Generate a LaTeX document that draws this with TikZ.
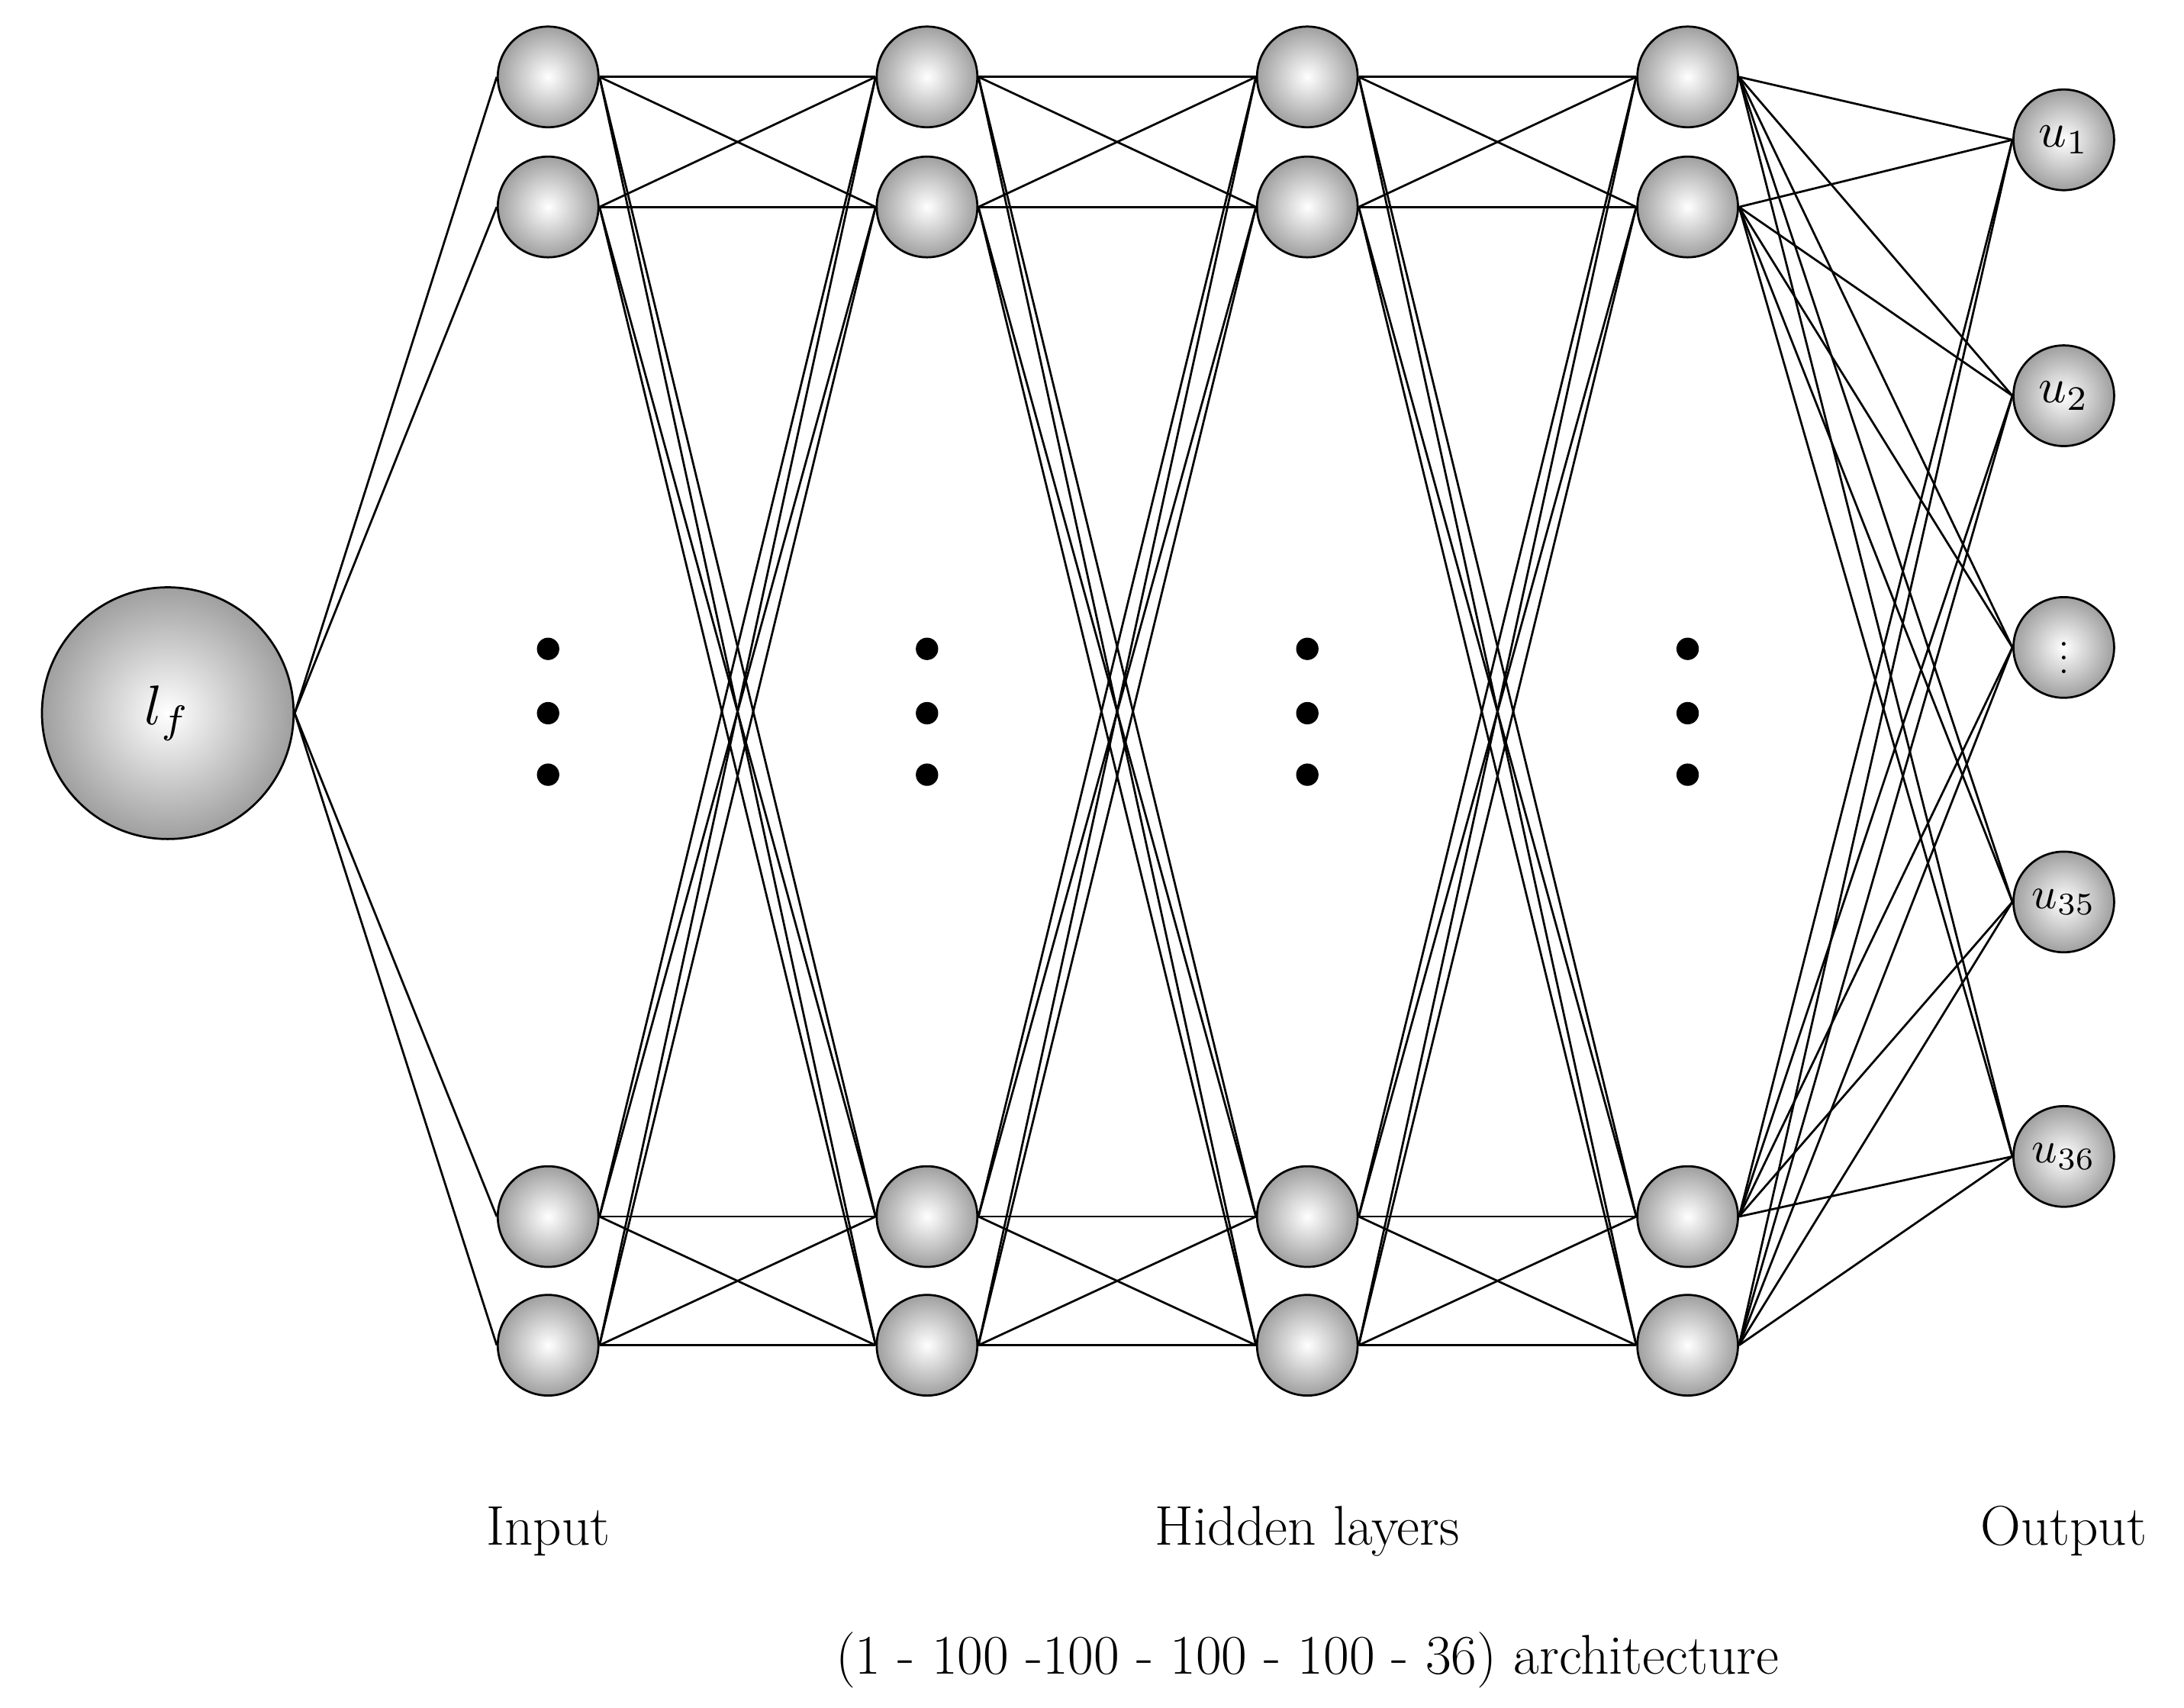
\documentclass[tikz,border=0pt]{standalone}
\begin{document}
\begin{tikzpicture}[x=1pt,y=-1pt,
  neuron/.style={circle,draw=black,line width=1.5pt,inner color=white,outer color=gray!75,minimum size=72pt,inner sep=0pt},
  big/.style={neuron,minimum size=180pt},
  edge/.style={line width=1.5pt},
  dot/.style={circle,fill=black,minimum size=16pt,inner sep=0pt},
  lab/.style={font=\fontsize{40}{48}\selectfont}]
\useasboundingbox (0,0) rectangle (1562,1221);
\node[big] (lf) at (120,510) {\scalebox{4}{$l_f$}};
\foreach \c/\x in {1/392,2/663,3/935,4/1207}{
  \foreach \r/\y in {1/55,2/148,3/870,4/962}{
    \node[neuron] (n\c\r) at (\x,\y) {};
  }
  \node[dot] (d\c a) at (\x,464) {};
  \node[dot] (d\c b) at (\x,510) {};
  \node[dot] (d\c c) at (\x,554) {};
}
\node[neuron] (o1) at (1476,100) {\scalebox{3.5}{$u_1$}};
\node[neuron] (o2) at (1476,283) {\scalebox{3.5}{$u_2$}};
\node[neuron] (o3) at (1476,463) {\scalebox{2.5}{$\vdots$}};
\node[neuron] (o4) at (1476,645) {\scalebox{3.2}{$u_{35}$}};
\node[neuron] (o5) at (1476,827) {\scalebox{3.2}{$u_{36}$}};
\foreach \r in {1,...,4}{\draw[edge] (lf.east) -- (n1\r.west);}
\foreach \c/\d in {1/2,2/3,3/4}{
  \foreach \r in {1,...,4}{
    \foreach \s in {1,...,4}{\draw[edge] (n\c\r.east) -- (n\d\s.west);}
  }
}
\foreach \r in {1,...,4}{
  \foreach \s in {1,...,5}{\draw[edge] (n4\r.east) -- (o\s.west);}
}
\node[lab] (t1) at (392,1095) {Input};
\node[lab] (t2) at (935,1095) {Hidden layers};
\node[lab] (t3) at (1476,1095) {Output};
\node[lab] (t4) at (935,1187) {(1 - 100 -100 - 100 - 100 - 36) architecture};
\end{tikzpicture}
\end{document}
